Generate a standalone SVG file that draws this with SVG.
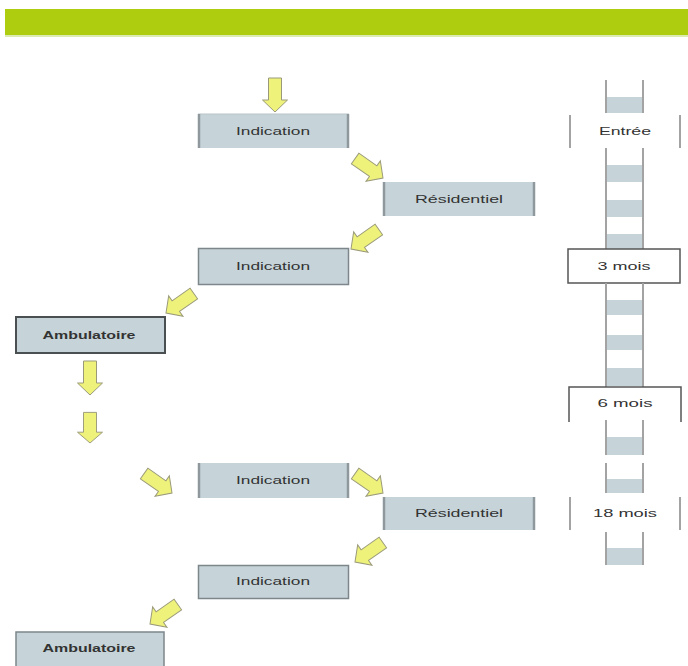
<svg xmlns="http://www.w3.org/2000/svg" width="688" height="666" viewBox="0 0 688 666">
<style>
.box{fill:#c6d4d9}
.side{stroke:#8f999d;stroke-width:2.5}
.edge{stroke:#b8c4c8;stroke-width:1}
.full{fill:#c6d4d9;stroke:#7d878b;stroke-width:1.5}
.amb{fill:#c6d4d9;stroke:#4a4f52;stroke-width:2}
.t{font-family:"Liberation Sans",Arial,sans-serif;font-size:11px;fill:#333;text-anchor:middle}
.b{font-weight:bold}
.rail{stroke:#a3a3a3;stroke-width:2}
.band{fill:#c6d4d9}
.brk{stroke:#a3a3a3;stroke-width:2;fill:none}
.arr{fill:#eef27a;stroke:#9a9a7a;stroke-width:1}
</style>
<defs>
<path id="a" d="M-6.5,-34 H6.5 V-12 H12.5 L0,0 L-12.5,-12 H-6.5 Z"/>
</defs>
<rect x="5" y="9" width="683" height="26" fill="#aecd0e"/>
<rect x="5" y="35" width="683" height="2" fill="#dcebb0"/>

<g id="ladder">
<rect class="band" x="606" y="97" width="37" height="16"/>
<line class="rail" x1="606" y1="80" x2="606" y2="113"/>
<line class="rail" x1="643" y1="80" x2="643" y2="113"/>
<line class="brk" x1="570" y1="115" x2="570" y2="148"/>
<line class="brk" x1="680" y1="115" x2="680" y2="148"/>
<text class="t" x="625" y="135" textLength="52" lengthAdjust="spacingAndGlyphs">Entrée</text>
<rect class="band" x="606" y="165" width="37" height="17"/>
<rect class="band" x="606" y="200" width="37" height="17"/>
<rect class="band" x="606" y="234" width="37" height="15"/>
<line class="rail" x1="606" y1="148" x2="606" y2="249"/>
<line class="rail" x1="643" y1="148" x2="643" y2="249"/>
<rect x="568" y="249" width="112" height="34" fill="#fff" stroke="#555" stroke-width="1.5"/>
<text class="t" x="624" y="270" textLength="53" lengthAdjust="spacingAndGlyphs">3 mois</text>
<rect class="band" x="606" y="300" width="37" height="15"/>
<rect class="band" x="606" y="335" width="37" height="15"/>
<rect class="band" x="606" y="368" width="37" height="18"/>
<line class="rail" x1="606" y1="283" x2="606" y2="387"/>
<line class="rail" x1="643" y1="283" x2="643" y2="387"/>
<path d="M569,422 V387 H681 V422" fill="none" stroke="#555" stroke-width="1.5"/>
<text class="t" x="625" y="407" textLength="55" lengthAdjust="spacingAndGlyphs">6 mois</text>
<rect class="band" x="606" y="437" width="37" height="18"/>
<line class="rail" x1="606" y1="420" x2="606" y2="455"/>
<line class="rail" x1="643" y1="420" x2="643" y2="455"/>
<rect class="band" x="606" y="479" width="37" height="14"/>
<line class="rail" x1="606" y1="463" x2="606" y2="493"/>
<line class="rail" x1="643" y1="463" x2="643" y2="493"/>
<line class="brk" x1="570" y1="497" x2="570" y2="530"/>
<line class="brk" x1="680" y1="497" x2="680" y2="530"/>
<text class="t" x="625" y="517" textLength="64" lengthAdjust="spacingAndGlyphs">18 mois</text>
<rect class="band" x="606" y="548" width="37" height="17"/>
<line class="rail" x1="606" y1="532" x2="606" y2="565"/>
<line class="rail" x1="643" y1="532" x2="643" y2="565"/>
</g>

<g id="indication1">
<rect class="box" x="198" y="114" width="151" height="34"/>
<line class="edge" x1="198" y1="114" x2="349" y2="114"/>
<line class="side" x1="199" y1="114" x2="199" y2="148"/>
<line class="side" x1="348" y1="114" x2="348" y2="148"/>
<text class="t" x="273" y="135" textLength="74" lengthAdjust="spacingAndGlyphs">Indication</text>
</g>
<g id="residentiel1">
<rect class="box" x="383" y="182" width="152" height="34"/>
<line class="side" x1="384" y1="182" x2="384" y2="216"/>
<line class="side" x1="534" y1="182" x2="534" y2="216"/>
<text class="t" x="459" y="203" textLength="88" lengthAdjust="spacingAndGlyphs">Résidentiel</text>
</g>
<g id="indication2">
<rect class="full" x="198.5" y="248.5" width="150" height="36"/>
<text class="t" x="273" y="270" textLength="74" lengthAdjust="spacingAndGlyphs">Indication</text>
</g>
<g id="ambulatoire1">
<rect class="amb" x="16" y="317" width="149" height="36"/>
<text class="t b" x="89" y="339" textLength="93" lengthAdjust="spacingAndGlyphs">Ambulatoire</text>
</g>
<g id="indication3">
<rect class="box" x="198" y="463" width="151" height="35"/>
<line class="side" x1="199" y1="463" x2="199" y2="498"/>
<line class="side" x1="348" y1="463" x2="348" y2="498"/>
<text class="t" x="273" y="484" textLength="74" lengthAdjust="spacingAndGlyphs">Indication</text>
</g>
<g id="residentiel2">
<rect class="box" x="383" y="497" width="152" height="33"/>
<line class="side" x1="384" y1="497" x2="384" y2="530"/>
<line class="side" x1="534" y1="497" x2="534" y2="530"/>
<text class="t" x="459" y="517" textLength="88" lengthAdjust="spacingAndGlyphs">Résidentiel</text>
</g>
<g id="indication4">
<rect class="full" x="198.5" y="565.5" width="150" height="33"/>
<text class="t" x="273" y="585" textLength="74" lengthAdjust="spacingAndGlyphs">Indication</text>
</g>
<g id="ambulatoire2">
<rect class="full" x="16" y="632" width="148" height="36" stroke="#666"/>
<text class="t b" x="89" y="652" textLength="93" lengthAdjust="spacingAndGlyphs">Ambulatoire</text>
</g>

<g id="connectors">
<use href="#a" class="arr" transform="translate(275,112)"/>
<use href="#a" class="arr" transform="translate(383,178) rotate(-55)"/>
<use href="#a" class="arr" transform="translate(351,249) rotate(55)"/>
<use href="#a" class="arr" transform="translate(166,313) rotate(55)"/>
<use href="#a" class="arr" transform="translate(90,395)"/>
<use href="#a" class="arr" transform="translate(90,443) scale(1,0.9)"/>
<use href="#a" class="arr" transform="translate(172,493) rotate(-55)"/>
<use href="#a" class="arr" transform="translate(383,493) rotate(-55)"/>
<use href="#a" class="arr" transform="translate(355,562) rotate(55)"/>
<use href="#a" class="arr" transform="translate(150,624) rotate(55)"/>
</g>
</svg>
